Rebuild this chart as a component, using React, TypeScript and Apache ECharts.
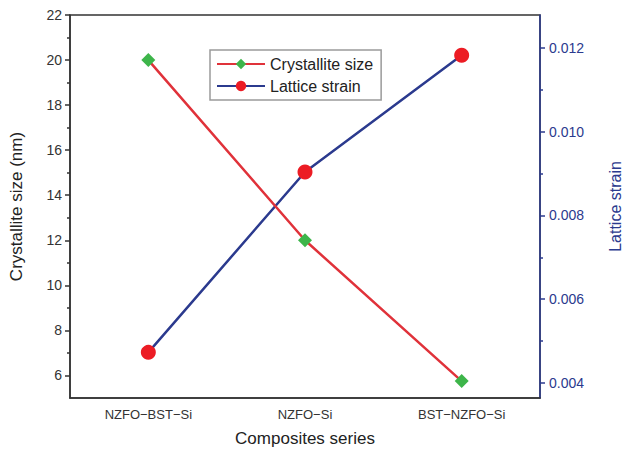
import React, { useEffect, useRef } from "react";
import * as echarts from "echarts";

const categories = ["NZFO\u2212BST\u2212Si", "NZFO\u2212Si", "BST\u2212NZFO\u2212Si"];
const crystalliteSize = [20, 12, 5.75];
const latticeStrain = [0.00473, 0.00904, 0.01183];
const leftMajor = [6, 8, 10, 12, 14, 16, 18, 20, 22];
const leftMinor = [7, 9, 11, 13, 15, 17, 19, 21];
const rightMajor = [0.004, 0.006, 0.008, 0.01, 0.012];
const rightMinor = [0.005, 0.007, 0.009, 0.011];

const FONT = "Liberation Sans";
const NAVY = "#2b3a8e";
const DARK = "#333333";

export default function App() {
  const ref = useRef<HTMLDivElement>(null);
  useEffect(() => {
    if (!ref.current) return;
    const chart = echarts.init(ref.current, null, { renderer: "svg" });
    const lMin = 5, lMax = 22;
    const rMin = 0.00364, rMax = 0.01279;
    chart.setOption({
      animation: false,
      backgroundColor: "#ffffff",
      grid: {
        left: 70,
        right: 86,
        top: 15,
        bottom: 59,
        containLabel: false,
        outerBoundsMode: "none",
        show: true,
        borderColor: DARK,
        borderWidth: 1.5,
        backgroundColor: "transparent",
      },
      legend: {
        orient: "vertical",
        left: 210,
        top: 50,
        itemWidth: 48,
        itemHeight: 13,
        itemGap: 6,
        padding: [6, 8, 6, 6],
        borderColor: "#9a9a9a",
        borderWidth: 1.5,
        textStyle: { fontFamily: FONT, fontSize: 16, color: "#222" },
        data: ["Crystallite size", "Lattice strain"],
      },
      xAxis: [
        {
          type: "category",
          data: categories,
          name: "Composites series",
          nameLocation: "middle",
          nameGap: 32,
          nameTextStyle: { fontFamily: FONT, fontSize: 17, color: "#222" },
          axisLine: { lineStyle: { color: DARK, width: 1.5 } },
          axisTick: { alignWithLabel: true, length: 5, lineStyle: { color: DARK, width: 1.5 } },
          axisLabel: { fontFamily: FONT, fontSize: 13, color: "#333", margin: 10 },
        },
        {
          type: "category",
          data: categories,
          position: "bottom",
          axisLine: { show: false },
          axisTick: { alignWithLabel: false, length: 3, lineStyle: { color: DARK, width: 1.5 } },
          axisLabel: { show: false },
        },
      ],
      yAxis: [
        {
          type: "value",
          min: lMin,
          max: lMax,
          position: "left",
          name: "Crystallite size (nm)",
          nameLocation: "middle",
          nameRotate: 90,
          nameGap: 45,
          nameTextStyle: { fontFamily: FONT, fontSize: 17, color: "#222" },
          splitLine: { show: false },
          axisLine: { show: true, lineStyle: { color: DARK, width: 1.5 } },
          axisTick: { show: true, length: 5, customValues: leftMajor, lineStyle: { color: DARK, width: 1.5 } },
          axisLabel: { customValues: leftMajor, fontFamily: FONT, fontSize: 14, color: "#333", margin: 8 },
        },
        {
          type: "value",
          min: lMin,
          max: lMax,
          position: "left",
          splitLine: { show: false },
          axisLine: { show: false },
          axisTick: { show: true, length: 3, customValues: leftMinor, lineStyle: { color: DARK, width: 1.5 } },
          axisLabel: { show: false },
        },
        {
          type: "value",
          min: rMin,
          max: rMax,
          position: "right",
          name: "Lattice strain",
          nameLocation: "middle",
          nameRotate: 90,
          nameGap: 67,
          nameTextStyle: { fontFamily: FONT, fontSize: 16, color: NAVY },
          splitLine: { show: false },
          axisLine: { show: true, lineStyle: { color: NAVY, width: 1.5 } },
          axisTick: { show: true, length: 5, customValues: rightMajor, lineStyle: { color: NAVY, width: 1.5 } },
          axisLabel: {
            customValues: rightMajor,
            fontFamily: FONT,
            fontSize: 14,
            color: NAVY,
            margin: 9,
            formatter: (v: number) => v.toFixed(3),
          },
        },
        {
          type: "value",
          min: rMin,
          max: rMax,
          position: "right",
          splitLine: { show: false },
          axisLine: { show: false },
          axisTick: { show: true, length: 3, customValues: rightMinor, lineStyle: { color: NAVY, width: 1.5 } },
          axisLabel: { show: false },
        },
      ],
      series: [
        {
          name: "Crystallite size",
          type: "line",
          xAxisIndex: 0,
          yAxisIndex: 0,
          data: crystalliteSize,
          symbol: "diamond",
          symbolSize: 14,
          lineStyle: { color: "#e0323a", width: 2.5 },
          itemStyle: { color: "#3db54a" },
          z: 3,
        },
        {
          name: "Lattice strain",
          type: "line",
          xAxisIndex: 0,
          yAxisIndex: 2,
          data: latticeStrain,
          symbol: "circle",
          symbolSize: 15,
          lineStyle: { color: NAVY, width: 2.5 },
          itemStyle: { color: "#ec1c24" },
          z: 2,
        },
      ],
    });
    return () => chart.dispose();
  }, []);
  return <div ref={ref} style={{ width: 626, height: 457, position: "absolute", left: 0, top: 0 }} />;
}
